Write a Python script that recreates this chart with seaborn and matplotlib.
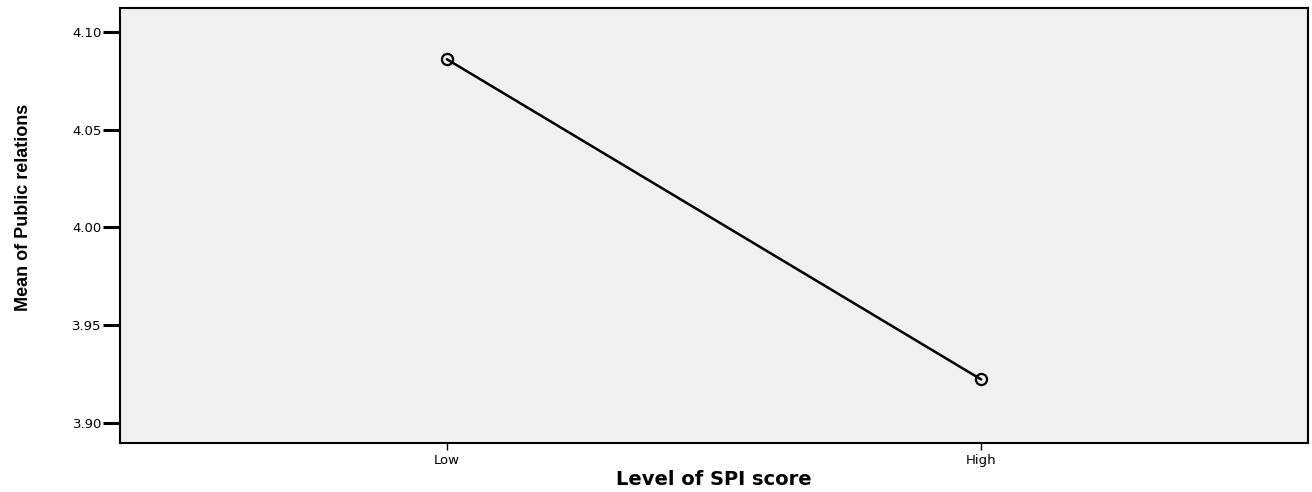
import pandas as pd
import seaborn as sns
from matplotlib import pyplot as plt

levels = ["Low", "High"]
means = [4.0859, 3.9223]
y_ticks = [3.90, 3.95, 4.00, 4.05, 4.10]

df = pd.DataFrame({"level": levels, "mean": means})

sns.set_style("white")
plt.rcParams["font.family"] = ["DejaVu Sans"]
plt.rcParams["text.color"] = "black"
plt.rcParams["axes.labelcolor"] = "black"
plt.rcParams["xtick.color"] = "black"
plt.rcParams["ytick.color"] = "black"

fig = plt.figure(figsize=(13.12, 4.92), dpi=100)
ax = fig.add_axes([120 / 1312, 1 - 443 / 492, 1188 / 1312, 435 / 492])
ax.set_facecolor("#f0f0f0")

sns.lineplot(
    data=df, x="level", y="mean", ax=ax,
    color="black", linewidth=1.8, marker="o", markersize=8,
    markerfacecolor="none", markeredgecolor="black", markeredgewidth=1.6,
)

ax.set_xlim(-0.612, 1.612)
ax.set_ylim(3.8898, 4.1121)
ax.set_yticks(y_ticks)
ax.set_yticklabels([f"{t:.2f}" for t in y_ticks])

for s in ax.spines.values():
    s.set_color("black")
    s.set_linewidth(1.5)

ax.tick_params(axis="y", direction="out", length=12, width=2.2, labelsize=9.5, pad=1, left=True)
ax.tick_params(axis="x", direction="out", length=5, width=1, labelsize=9.5, pad=3, bottom=True)

ax.set_xlabel("Level of SPI score", fontsize=14, fontweight="bold")
ax.xaxis.set_label_coords(0.5, -0.062)
ax.set_ylabel("Mean of Public relations", fontsize=13, fontweight="bold",
              family=["Liberation Sans"])
ax.yaxis.set_label_coords(-0.074, 0.5425)

fig.savefig("out.png", dpi=100)
